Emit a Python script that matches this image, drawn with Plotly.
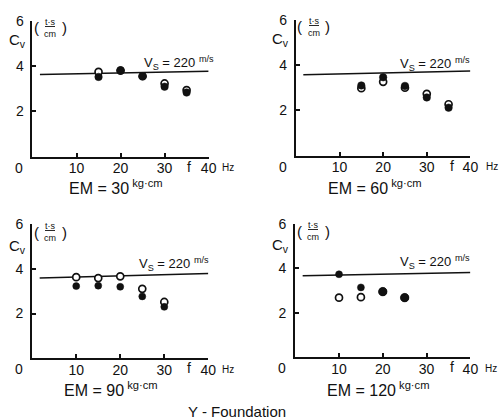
import plotly.graph_objects as go

# ---- data ----
freq1 = [15, 20, 25, 30, 35]
open1 = [3.74, 3.80, 3.55, 3.23, 2.94]
filled1 = [3.52, 3.81, 3.55, 3.09, 2.83]

freq2 = [15, 20, 25, 30, 35]
open2 = [2.98, 3.26, 3.00, 2.73, 2.27]
filled2 = [3.10, 3.46, 3.08, 2.57, 2.12]

freq3 = [10, 15, 20, 25, 30]
open3 = [3.63, 3.59, 3.67, 3.11, 2.52]
filled3 = [3.23, 3.25, 3.20, 2.77, 2.30]

freq4 = [10, 15, 20, 25]
open4 = [2.68, 2.70, 2.95, 2.68]
filled4 = [3.73, 3.14, 2.95, 2.68]

vs_f = [1.7, 40]
vs1 = [3.63, 3.77]
vs2 = [3.57, 3.74]
vs3 = [3.59, 3.80]
vs4 = [3.66, 3.81]

em_labels = ["30", "60", "90", "120"]
x_ticks = [10, 20, 30, 40]
x_ticktext = ["10", "20", "30", "40"]
y_ticks = [2, 4, 6]

W, H = 502, 420
FONT = "Liberation Sans"
INK = "#111111"

panels = [
    dict(f=freq1, o=open1, c=filled1, vs=vs1, em=em_labels[0], csize=[7.5] * 5,
         px=(33, 212), py=(151.5, 13), vsdx=184, vsdy=-94, emdx=84, emdy=30, cvdy=-116, frdy=-129),
    dict(f=freq2, o=open2, c=filled2, vs=vs2, em=em_labels[1], csize=[7.5] * 5,
         px=(300.7, 478), py=(150.5, 12), vsdx=176, vsdy=-92, emdx=79, emdy=31, cvdy=-116, frdy=-129),
    dict(f=freq3, o=open3, c=filled3, vs=vs3, em=em_labels[2], csize=[7] * 5,
         px=(32.7, 211.7), py=(357, 220.5), vsdx=179, vsdy=-94, emdx=79, emdy=31, cvdy=-112, frdy=-126),
    dict(f=freq4, o=open4, c=filled4, vs=vs4, em=em_labels[3], csize=[7, 7, 8.5, 8.5],
         px=(300, 478), py=(356, 220), vsdx=177, vsdy=-95, emdx=83, emdy=32, cvdy=-112, frdy=-126),
]

fig = go.Figure()
annotations = []
layout = {}

for i, p in enumerate(panels, start=1):
    xa = "x" if i == 1 else f"x{i}"
    ya = "y" if i == 1 else f"y{i}"
    xkey = "xaxis" if i == 1 else f"xaxis{i}"
    ykey = "yaxis" if i == 1 else f"yaxis{i}"

    fig.add_trace(go.Scatter(x=vs_f, y=p["vs"], mode="lines",
                             line=dict(color=INK, width=1.5),
                             xaxis=xa, yaxis=ya, showlegend=False, hoverinfo="skip"))
    fig.add_trace(go.Scatter(x=p["f"], y=p["o"], mode="markers",
                             marker=dict(symbol="circle", size=7, color="white", opacity=1,
                                         line=dict(color=INK, width=1.7)),
                             xaxis=xa, yaxis=ya, showlegend=False))
    fig.add_trace(go.Scatter(x=p["f"], y=p["c"], mode="markers",
                             marker=dict(symbol="circle", size=p["csize"], color=INK, opacity=1,
                                         line=dict(color=INK, width=0.5)),
                             xaxis=xa, yaxis=ya, showlegend=False))

    x0, x1 = p["px"]
    yb, yt = p["py"]
    layout[xkey] = dict(domain=[x0 / W, x1 / W], range=[0, 40], anchor=ya,
                        showline=True, linecolor=INK, linewidth=2,
                        ticks="inside", ticklen=4, tickwidth=1.5, tickcolor=INK,
                        tickvals=x_ticks, ticktext=x_ticktext,
                        tickfont=dict(family=FONT, size=14, color=INK),
                        ticklabelstandoff=-2,
                        showgrid=False, zeroline=False, fixedrange=True)
    layout[ykey] = dict(domain=[1 - yb / H, 1 - yt / H], range=[0, 6], anchor=xa,
                        showline=True, linecolor=INK, linewidth=2,
                        ticks="inside", ticklen=4, tickwidth=1.5, tickcolor=INK,
                        tickvals=y_ticks,
                        tickfont=dict(family=FONT, size=14, color=INK),
                        ticklabelstandoff=4,
                        showgrid=False, zeroline=False, fixedrange=True)

    def ann(text, dx, dy, size=13, xanchor="center", yanchor="middle"):
        annotations.append(dict(text=text, xref=f"{xa} domain", yref=f"{ya} domain",
                                x=0, y=0, xshift=dx, yshift=-dy, showarrow=False,
                                xanchor=xanchor, yanchor=yanchor,
                                font=dict(family=FONT, size=size, color=INK)))

    ann("0", -13, 11, size=14)
    ann("C<sub>v</sub>", -15, p["cvdy"], size=15)
    ann("(", 4, p["frdy"], size=15)
    ann(")", 32, p["frdy"], size=15)
    ann("<u>t·s</u><br>cm", 18, p["frdy"], size=9)
    ann("f", 156.5, 10, size=14)
    ann("Hz", 196, 11, size=10)
    ann("V<sub>S</sub> = 220 <sup>m/s</sup>", p["vsdx"], p["vsdy"], size=13, xanchor="right")
    ann(f"EM = {p['em']}<sup> kg·cm</sup>", p["emdx"], p["emdy"], size=16)

annotations.append(dict(text="Y - Foundation", xref="paper", yref="paper",
                        x=241 / W, y=1 - 411 / H, showarrow=False,
                        xanchor="center", yanchor="middle",
                        font=dict(family=FONT, size=15, color=INK)))

fig.update_layout(width=W, height=H, margin=dict(l=0, r=0, t=0, b=0),
                  paper_bgcolor="white", plot_bgcolor="white",
                  annotations=annotations, **layout)

fig.write_html("out.html", config={"displayModeBar": False})
